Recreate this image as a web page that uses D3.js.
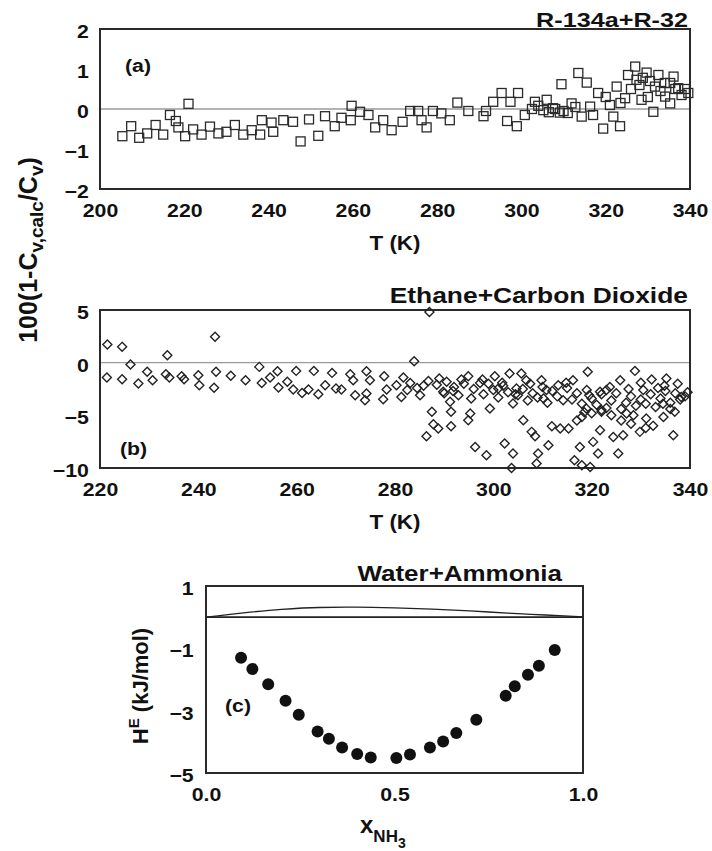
<!DOCTYPE html>
<html><head><meta charset="utf-8">
<script src="https://cdn.jsdelivr.net/npm/d3@7"></script>
<style>
body{margin:0;background:#fff}
svg{display:block}
text{font-family:"Liberation Sans",Arial,Helvetica,sans-serif;fill:#111}
</style>
</head><body>
<svg id="chart" width="712" height="851"></svg>
<script>
// ---------- Panel (a): R-134a + R-32 ----------
const aTicksX = [200,220,240,260,280,300,320,340];
const aTicksY = [2,1,0,-1,-2];
const aT = [205.3,207.4,209.3,211.2,213.2,215.0,216.6,218.0,218.6,221.0,220.2,222.1,224.1,226.1,228.1,230.0,232.0,234.0,236.0,238.0,238.4,240.7,241.1,243.5,245.8,247.6,249.6,251.8,253.4,255.7,257.3,259.7,259.5,261.7,263.7,265.3,267.2,269.2,
  271.8,273.6,275.5,276.3,277.5,279.0,281.0,283.0,284.8,287.4,291.0,291.6,293.3,295.3,296.6,297.4,299.2,298.9,300.8,303.2,305.2,306.0,307.5,309.1,309.5,311.9,313.5,314.3,315.5,316.3,318.2,319.4,321.0,321.8,323.4,322.6,324.6,325.3,327.0,327.3,328.5,329.7,331.3,331.7,332.5,334.1,335.3,336.1,337.2,338.0,339.6,335.3,
  302.5,304.0,306.5,308.0,310.0,311.0,312.8,317.0,320.0,326.0,328.0,330.0,333.0,336.5,338.8,323.5,328.8,330.5,334.0];
const aV = [-0.68,-0.43,-0.72,-0.61,-0.40,-0.64,-0.15,-0.30,-0.46,0.13,-0.68,-0.51,-0.64,-0.44,-0.61,-0.57,-0.40,-0.64,-0.53,-0.64,-0.28,-0.34,-0.57,-0.28,-0.32,-0.81,-0.26,-0.67,-0.18,-0.43,-0.22,0.08,-0.28,-0.07,-0.15,-0.46,-0.28,-0.53,
  -0.32,-0.05,-0.05,-0.28,-0.46,-0.05,-0.11,-0.28,0.16,-0.05,-0.18,-0.05,0.18,0.40,-0.30,0.18,0.40,-0.43,-0.15,0.18,-0.03,0.23,0.02,-0.09,0.62,0.14,0.90,-0.19,0.66,0.06,0.40,-0.49,0.10,-0.19,-0.43,0.56,0.27,0.85,1.06,0.73,0.23,0.91,-0.07,0.56,0.85,0.31,0.65,0.81,0.52,0.35,0.40,0.14,
  0.00,0.08,-0.08,0.00,-0.05,-0.10,0.05,-0.15,0.30,0.50,0.60,0.30,0.45,0.50,0.50,0.15,0.78,0.70,0.65];

// ---------- Panel (b): Ethane + Carbon Dioxide ----------
const bTicksX = [220,240,260,280,300,320,340];
const bTicksY = [5,0,-5,-10];
const bT = [221.5,224.5,226.2,221.4,224.5,227.8,229.6,230.7,233.7,233.4,234.1,236.6,237.1,240.0,240.2,243.4,243.6,243.2,246.6,249.6,252.4,252.9,254.6,256.1,256.3,258.1,259.9,259.3,261.1,262.4,263.5,264.4,265.8,267.2,268.0,269.1,270.9,271.5,271.9,274.2,274.9,274.2,273.9,277.8,278.3,277.6,280.3,
  287.0,283.9,281.7,281.3,283.1,285.1,286.8,287.5,287.8,286.4,288.8,290.5,291.2,291.4,291.4,289.8,292.9,294.9,295.3,294.9,296.3,297.3,298.6,299.3,300.3,301.0,302.3,303.3,303.7,304.0,304.0,304.7,306.1,305.7,306.7,307.8,308.5,309.1,308.8,309.8,310.2,311.2,311.9,313.6,315.3,313.2,314.2,316.2,316.5,317.6,318.0,319.7,318.0,318.9,319.2,320.3,321.3,321.7,322.0,321.7,323.7,324.4,325.4,325.8,326.4,327.1,328.8,328.5,329.8,331.1,332.2,334.6,335.2,336.6,336.9,338.2,
  284.5,288.5,290.0,292.0,293.5,296.0,298.0,299.0,301.0,302.0,303.0,305.0,306.0,307.0,308.0,309.0,310.0,311.0,312.0,313.0,315.0,316.0,317.0,318.0,319.0,320.0,321.0,322.0,323.0,324.0,325.0,326.0,327.0,328.0,329.0,330.0,330.5,331.0,332.0,333.0,333.5,334.0,335.0,336.0,337.0,338.0,339.0,326.0,328.0,324.0,322.0,320.0,317.0,318.5,336.0,334.5,331.0,332.5,
  282.5,285.8,289.0,291.8,294.0,295.5,297.8,300.0,301.8,304.5,307.5,310.8,314.8,319.5,323.0,327.5,330.0,334.8,337.5,339.5];
const bV = [1.73,1.50,-0.17,-1.41,-1.57,-1.98,-0.87,-1.66,0.71,-1.09,-1.41,-1.28,-1.57,-1.19,-2.14,2.45,-0.87,-2.39,-1.25,-1.66,-0.40,-1.92,-1.41,-0.81,-2.36,-1.82,-0.78,-2.55,-2.87,-2.55,-0.78,-2.99,-2.14,-0.97,-2.45,-2.55,-1.09,-1.66,-3.09,-0.81,-1.66,-2.93,-3.56,-1.28,-2.55,-3.47,-2.14,
  4.82,0.14,-1.41,-3.25,-1.92,-3.09,-1.73,-4.67,-5.84,-6.98,-6.25,-1.82,-3.72,-4.67,-6.03,-2.77,-3.09,-1.28,-4.83,-5.46,-8.00,-1.92,-8.78,-4.35,-1.28,-2.45,-7.67,-1.03,-10.0,-8.62,-3.87,-2.45,-5.46,-1.03,-1.66,-6.57,-6.98,-8.62,-9.57,-1.66,-3.40,-7.83,-6.03,-6.25,-6.25,-2.14,-3.56,-1.66,-9.26,-8.00,-9.73,-9.90,-5.15,-4.35,-0.87,-7.52,-8.62,-6.41,-4.67,-2.77,-2.30,-7.05,-8.62,-1.66,-6.89,-4.83,-0.78,-4.99,-6.57,-5.30,-1.60,-5.15,-1.50,-6.89,-4.67,-3.25,
  -2.4,-2.1,-2.9,-2.3,-1.6,-2.5,-3.0,-2.0,-3.3,-2.2,-2.8,-3.1,-2.5,-3.6,-2.9,-3.3,-2.3,-3.8,-2.7,-3.2,-2.4,-3.5,-2.9,-3.9,-2.6,-3.4,-4.0,-3.0,-4.3,-3.6,-2.9,-4.4,-3.8,-3.2,-4.1,-3.5,-2.6,-3.9,-3.0,-4.2,-2.4,-3.4,-2.7,-3.8,-2.9,-3.5,-3.2,-5.5,-5.8,-5.0,-4.5,-4.8,-5.5,-4.7,-4.4,-3.9,-6.2,-6.0,
  -2.6,-2.2,-1.5,-2.7,-2.0,-3.4,-1.6,-2.6,-1.9,-3.0,-2.0,-2.6,-1.9,-3.1,-2.6,-2.5,-1.9,-2.2,-2.0,-2.8];

// ---------- Panel (c): Water + Ammonia ----------
const cTicksX = [0.0,0.5,1.0];
const cTicksY = [1,-1,-3,-5];
const cX = [0.093,0.123,0.165,0.211,0.246,0.296,0.326,0.361,0.401,0.437,0.505,0.541,0.594,0.629,0.664,0.717,0.795,0.819,0.854,0.883,0.925];
const cH = [-1.30,-1.66,-2.15,-2.68,-3.13,-3.67,-3.90,-4.18,-4.39,-4.50,-4.52,-4.41,-4.18,-3.99,-3.72,-3.29,-2.52,-2.22,-1.85,-1.56,-1.05];
const curveX = [0,0.1,0.2,0.3,0.4,0.5,0.6,0.7,0.8,0.9,1.0];
const curveY = [0,0.14,0.25,0.31,0.32,0.30,0.26,0.20,0.13,0.07,0.01];

const svg = d3.select("#chart");
const SX = 1.12; // horizontal stretch of the lettering

function stretchText(sel, sx){ sel.attr("transform", `scale(${sx},1)`); }

function drawPanel(o){
  const g = svg.append("g");
  const x = d3.scaleLinear().domain(o.xd).range([o.l,o.r]);
  const y = d3.scaleLinear().domain(o.yd).range([o.b,o.t]);
  g.append("line").attr("x1",o.l).attr("x2",o.r).attr("y1",y(0)).attr("y2",y(0))
    .attr("stroke",o.zeroColor).attr("stroke-width",o.zeroW);
  const xa = g.append("g").attr("transform",`translate(0,${o.b})`)
    .call(d3.axisBottom(x).tickValues(o.xt).tickSize(0).tickPadding(o.xpad).tickFormat(o.xf));
  const ya = g.append("g").attr("transform",`translate(${o.l},0)`)
    .call(d3.axisLeft(y).tickValues(o.yt).tickSize(0).tickPadding(o.ypad).tickFormat(d3.format("d")));
  [xa,ya].forEach(a=>{a.select(".domain").remove();
    a.selectAll("text").attr("font-size",o.tickFs).attr("font-weight","bold").attr("fill","#111")
      .attr("font-family",'"Liberation Sans",Arial,sans-serif');});
  ya.selectAll("text").attr("dy","0.45em");
  stretchText(xa.selectAll("text"), SX);
  stretchText(ya.selectAll("text"), SX);
  g.append("rect").attr("x",o.l).attr("y",o.t).attr("width",o.r-o.l).attr("height",o.b-o.t)
    .attr("fill","none").attr("stroke","#2a2a2a").attr("stroke-width",2);
  return {g,x,y};
}

// Panel a
const A = drawPanel({l:100,r:690,t:29,b:189,xd:[200,340],yd:[-2,2],xt:aTicksX,yt:aTicksY,
  xf:d3.format("d"),xpad:15,ypad:10,tickFs:19,zeroColor:"#9a9a9a",zeroW:1.3});
const sq = 9;
A.g.append("g").selectAll("rect").data(aT.map((t,i)=>[t,aV[i]])).join("rect")
  .attr("x",d=>A.x(d[0])-sq/2).attr("y",d=>A.y(d[1])-sq/2).attr("width",sq).attr("height",sq)
  .attr("fill","none").attr("stroke","#2a2a2a").attr("stroke-width",1.3);

// Panel b
const B = drawPanel({l:100,r:690,t:310,b:468,xd:[220,340],yd:[-10,5],xt:bTicksX,yt:bTicksY,
  xf:d3.format("d"),xpad:15,ypad:10,tickFs:19,zeroColor:"#9a9a9a",zeroW:1.3});
const dm = 4.5;
B.g.append("g").selectAll("path").data(bT.map((t,i)=>[t,bV[i]])).join("path")
  .attr("d",d=>{const cx=B.x(d[0]), cy=B.y(d[1]);
    return `M${cx},${cy-dm}L${cx+dm},${cy}L${cx},${cy+dm}L${cx-dm},${cy}Z`;})
  .attr("fill","none").attr("stroke","#222").attr("stroke-width",1.4);

// Panel c
const C = drawPanel({l:206,r:583,t:586,b:773,xd:[0,1],yd:[-5,1],xt:cTicksX,yt:cTicksY,
  xf:d3.format(".1f"),xpad:15,ypad:11,tickFs:19,zeroColor:"#222",zeroW:1.6});
C.g.append("path").datum(curveX.map((v,i)=>[v,curveY[i]]))
  .attr("d",d3.line().x(d=>C.x(d[0])).y(d=>C.y(d[1])).curve(d3.curveMonotoneX))
  .attr("fill","none").attr("stroke","#222").attr("stroke-width",1.3);
C.g.append("g").selectAll("circle").data(cX.map((v,i)=>[v,cH[i]])).join("circle")
  .attr("cx",d=>C.x(d[0])).attr("cy",d=>C.y(d[1])).attr("r",6).attr("fill","#111");

// ---------- Titles and labels ----------
function label(txt,x,y,opts){
  return svg.append("text").attr("transform",`translate(${x},${y}) scale(${opts.sx||SX},1)`)
    .attr("font-size",opts.fs).attr("font-weight",opts.fw||"bold").attr("text-anchor",opts.anchor||"start").text(txt);
}
label("R-134a+R-32",688,27,{fs:21,fw:"bold",anchor:"end",sx:1.2});
label("Ethane+Carbon Dioxide",688,303,{fs:22,anchor:"end",sx:1.2});
label("Water+Ammonia",562,581,{fs:22,anchor:"end",sx:1.18});
label("(a)",125,72,{fs:19});
label("(b)",120,455,{fs:19});
label("(c)",225,712,{fs:19});
label("T (K)",395,250,{fs:20,anchor:"middle"});
label("T (K)",395,529,{fs:20,anchor:"middle"});

// y label panels a/b
const yl = svg.append("text").attr("transform","translate(37,250) rotate(-90)")
  .attr("text-anchor","middle").attr("font-size",25).attr("font-weight","bold");
yl.append("tspan").text("100(1-C");
yl.append("tspan").attr("font-size",19).attr("dy",6).text("v,calc");
yl.append("tspan").attr("dy",-6).text("/C");
yl.append("tspan").attr("font-size",19).attr("dy",6).text("v");
yl.append("tspan").attr("dy",-6).text(")");

// y label panel c
const hl = svg.append("text").attr("transform","translate(148,686) rotate(-90)")
  .attr("text-anchor","middle").attr("font-size",22).attr("font-weight","bold");
hl.append("tspan").text("H");
hl.append("tspan").attr("font-size",15).attr("dy",-9).text("E");
hl.append("tspan").attr("dy",9).text(" (kJ/mol)");

// x label panel c
const xl = svg.append("text").attr("x",360).attr("y",833).attr("font-weight","bold");
xl.append("tspan").attr("font-size",24).text("x");
xl.append("tspan").attr("font-size",17).attr("dy",9).text("NH");
xl.append("tspan").attr("font-size",14).attr("dy",6).text("3");
</script>
</body></html>
